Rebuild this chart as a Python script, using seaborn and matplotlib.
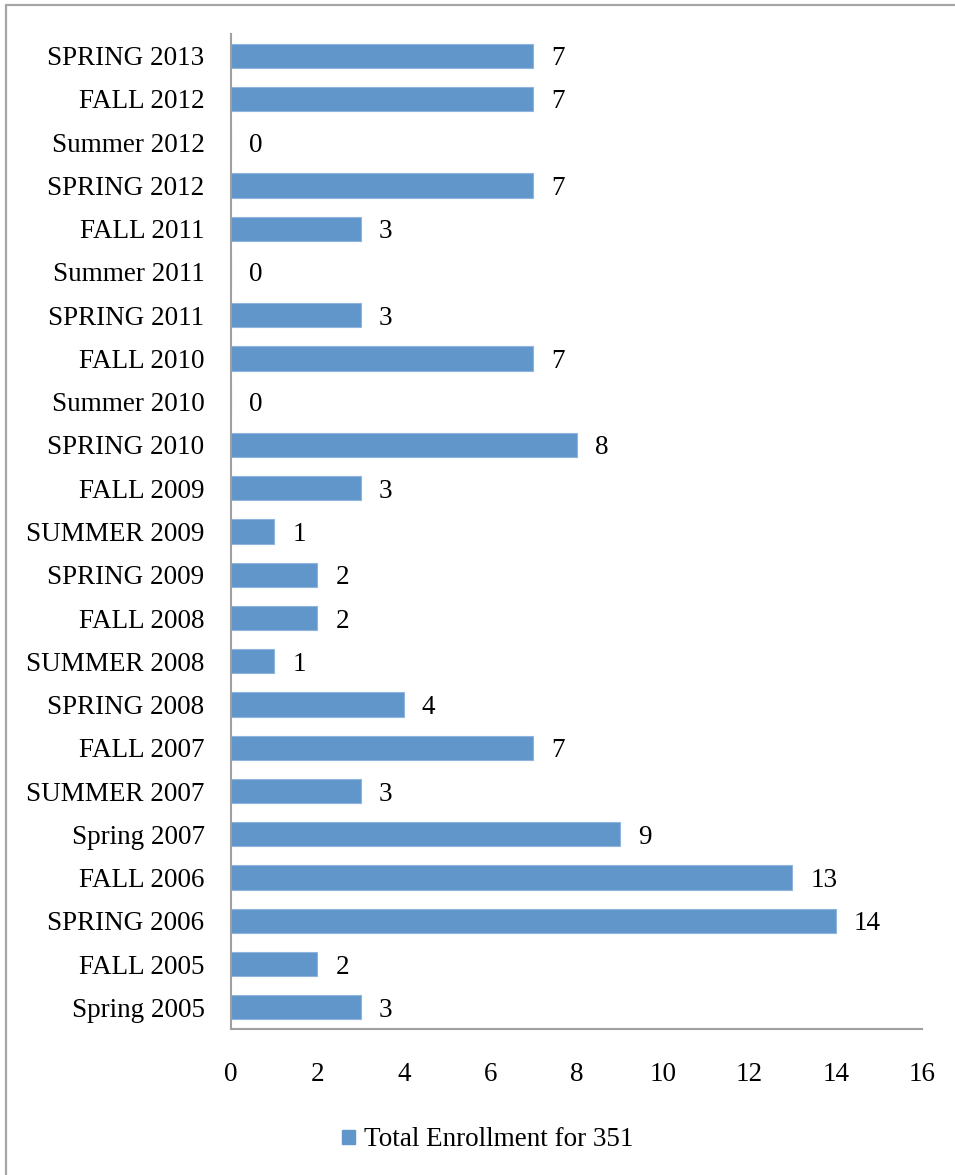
import matplotlib
matplotlib.use("Agg")
import matplotlib.pyplot as plt
import seaborn as sns
import pandas as pd
from matplotlib.patches import Patch
from matplotlib.lines import Line2D

terms = ["SPRING 2013", "FALL 2012", "Summer 2012", "SPRING 2012", "FALL 2011",
         "Summer 2011", "SPRING 2011", "FALL 2010", "Summer 2010", "SPRING 2010",
         "FALL 2009", "SUMMER 2009", "SPRING 2009", "FALL 2008", "SUMMER 2008",
         "SPRING 2008", "FALL 2007", "SUMMER 2007", "Spring 2007", "FALL 2006",
         "SPRING 2006", "FALL 2005", "Spring 2005"]
enrollment = [7, 7, 0, 7, 3, 0, 3, 7, 0, 8, 3, 1, 2, 2, 1, 4, 7, 3, 9, 13, 14, 2, 3]
x_ticks = [0, 2, 4, 6, 8, 10, 12, 14, 16]
series_name = "Total Enrollment for 351"

sns.set_theme(style="white")
plt.rcParams['font.family'] = ['Liberation Serif', 'DejaVu Serif']
plt.rcParams['text.color'] = 'black'

FS = 19.5
df = pd.DataFrame({"term": terms, "value": enrollment})
bar_color = "#6096CA"

fig = plt.figure(figsize=(9.55, 11.75), dpi=100)
ax = fig.add_axes([231/955, 1 - 1029/1175, (922-231)/955, (1029-34)/1175])

sns.barplot(data=df, y="term", x="value", orient="h", order=terms,
            color=bar_color, saturation=1, width=0.56, ax=ax,
            edgecolor="#8FB4DD", linewidth=0.8)

ax.set_xlim(0, 16)
ax.set_ylim(len(terms) - 0.5, -0.5)
ax.set_xticks(x_ticks)
ax.set_xticklabels([str(t) for t in x_ticks])
ax.set_xlabel("")
ax.set_ylabel("")
ax.tick_params(axis="x", length=0, pad=24, labelsize=FS, colors="black")
ax.tick_params(axis="y", length=0, pad=19, labelsize=FS, colors="black")

for s in ["top", "right"]:
    ax.spines[s].set_visible(False)
for s in ["left", "bottom"]:
    ax.spines[s].set_color("#A0A0A0")
    ax.spines[s].set_linewidth(1.5)

for cont in ax.containers:
    texts = ax.bar_label(cont, labels=[str(v) for v in enrollment], padding=13,
                         fontsize=FS, color="black")
    for t in texts:
        t.set_va("center_baseline")

handle = Patch(facecolor=bar_color, edgecolor=bar_color)
leg = fig.legend(handles=[handle], labels=[series_name], loc="center",
                 bbox_to_anchor=(488/955, 1 - 1140/1175), frameon=False,
                 fontsize=FS, handlelength=0.45, handleheight=0.45, handletextpad=0.35)
for t in leg.get_texts():
    t.set_color("black")

# outer chart border (top and left visible)
fig.add_artist(Line2D([5.5/955, 5.5/955], [0, 1 - 4.5/1175], transform=fig.transFigure,
                      color="#A6A6A6", linewidth=1.6))
fig.add_artist(Line2D([5.5/955, 1], [1 - 4.5/1175, 1 - 4.5/1175], transform=fig.transFigure,
                      color="#A6A6A6", linewidth=1.6))

fig.savefig("out.png", dpi=100, facecolor="white")
